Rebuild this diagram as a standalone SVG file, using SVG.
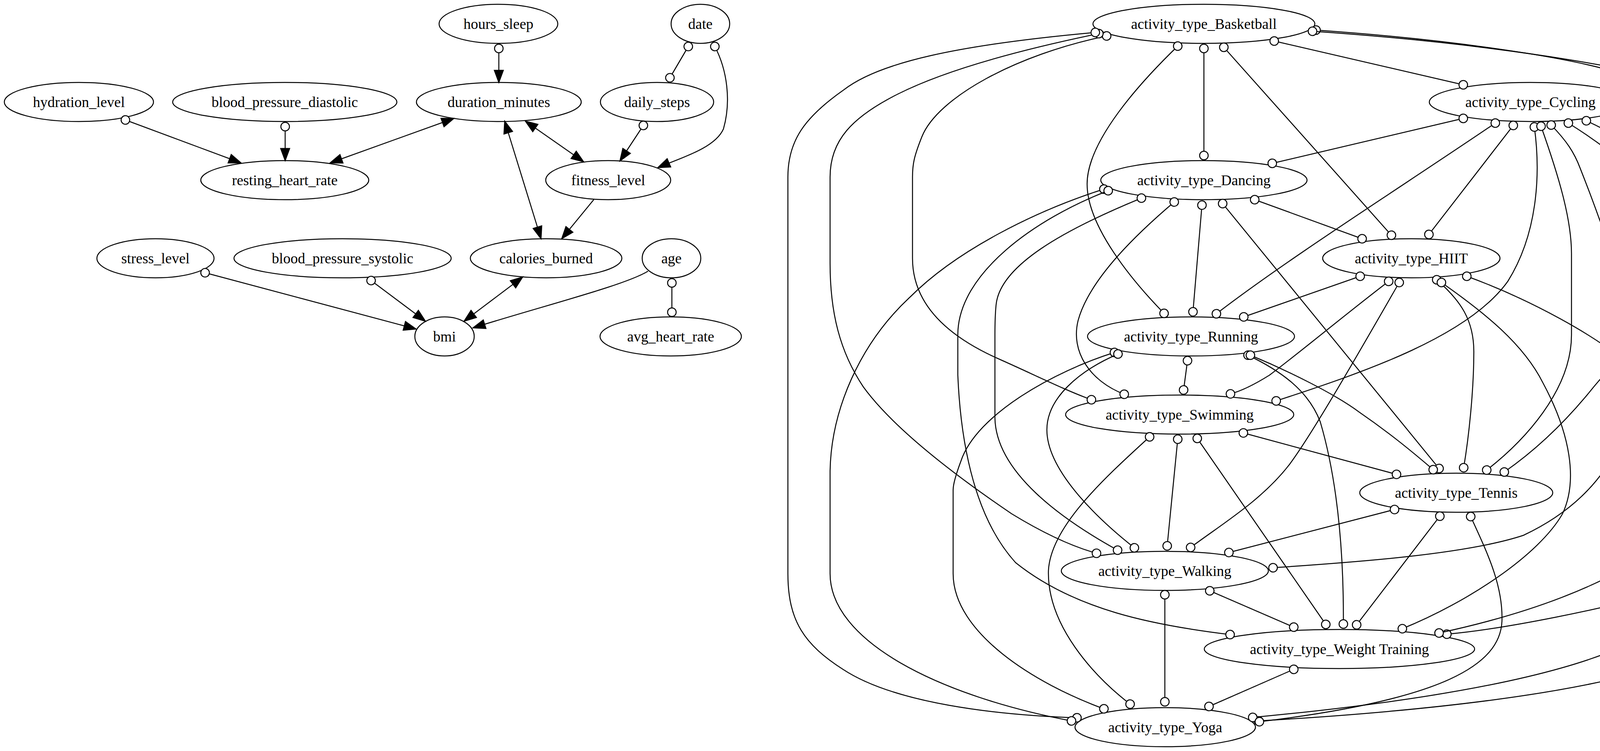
<svg xmlns="http://www.w3.org/2000/svg" width="7045" height="1922" viewBox="0 0 7045 1922">
<defs>
<style>
.n ellipse{fill:none;stroke:#000;stroke-width:2.5}
.n text{font-family:"Liberation Serif","Times New Roman",serif;font-size:37.5px;text-anchor:middle;fill:#000}
#edges path{fill:none;stroke:#000;stroke-width:2.5}
.oo{marker-start:url(#od);marker-end:url(#od)}
.oa{marker-start:url(#od);marker-end:url(#ar)}
.aa{marker-start:url(#ar);marker-end:url(#ar)}
.na{marker-end:url(#ar)}
</style>
<marker id="od" markerUnits="userSpaceOnUse" viewBox="-16 -16 32 32" markerWidth="32" markerHeight="32" refX="0" refY="0" orient="auto" overflow="visible"><circle r="11" fill="#fff" stroke="#000" stroke-width="2.5"/></marker>
<marker id="ar" markerUnits="userSpaceOnUse" viewBox="-36 -16 40 32" markerWidth="40" markerHeight="32" refX="0" refY="0" orient="auto-start-reverse" overflow="visible"><path d="M0,0 L-31,-11.5 L-31,11.5 Z" fill="#000" stroke="#000" stroke-width="2.5"/></marker>
</defs>
<rect width="7045" height="1922" fill="#fff"/>
<g id="nodes">
<g id="n_hydration_level" class="n"><ellipse cx="202" cy="261" rx="191" ry="50"/><text x="202" y="274">hydration_level</text></g>
<g id="n_blood_pressure_diastolic" class="n"><ellipse cx="729" cy="261" rx="287" ry="50"/><text x="729" y="274">blood_pressure_diastolic</text></g>
<g id="n_resting_heart_rate" class="n"><ellipse cx="729" cy="461" rx="215" ry="50"/><text x="729" y="474">resting_heart_rate</text></g>
<g id="n_stress_level" class="n"><ellipse cx="398" cy="661" rx="150" ry="50"/><text x="398" y="674">stress_level</text></g>
<g id="n_blood_pressure_systolic" class="n"><ellipse cx="877" cy="661" rx="278" ry="50"/><text x="877" y="674">blood_pressure_systolic</text></g>
<g id="n_hours_sleep" class="n"><ellipse cx="1276" cy="61" rx="152" ry="50"/><text x="1276" y="74">hours_sleep</text></g>
<g id="n_date" class="n"><ellipse cx="1793" cy="61" rx="75" ry="50"/><text x="1793" y="74">date</text></g>
<g id="n_duration_minutes" class="n"><ellipse cx="1277" cy="261" rx="211" ry="50"/><text x="1277" y="274">duration_minutes</text></g>
<g id="n_daily_steps" class="n"><ellipse cx="1682" cy="261" rx="145" ry="50"/><text x="1682" y="274">daily_steps</text></g>
<g id="n_fitness_level" class="n"><ellipse cx="1557" cy="461" rx="160" ry="50"/><text x="1557" y="474">fitness_level</text></g>
<g id="n_calories_burned" class="n"><ellipse cx="1398" cy="661" rx="194" ry="50"/><text x="1398" y="674">calories_burned</text></g>
<g id="n_age" class="n"><ellipse cx="1719" cy="661" rx="75" ry="50"/><text x="1719" y="674">age</text></g>
<g id="n_bmi" class="n"><ellipse cx="1138" cy="861" rx="76" ry="50"/><text x="1138" y="874">bmi</text></g>
<g id="n_avg_heart_rate" class="n"><ellipse cx="1717" cy="861" rx="181" ry="50"/><text x="1717" y="874">avg_heart_rate</text></g>
<g id="n_activity_type_Basketball" class="n"><ellipse cx="3082" cy="61" rx="284" ry="50"/><text x="3082" y="74">activity_type_Basketball</text></g>
<g id="n_activity_type_Cycling" class="n"><ellipse cx="3918" cy="261" rx="259" ry="50"/><text x="3918" y="274">activity_type_Cycling</text></g>
<g id="n_activity_type_Dancing" class="n"><ellipse cx="3082" cy="461" rx="264" ry="50"/><text x="3082" y="474">activity_type_Dancing</text></g>
<g id="n_activity_type_HIIT" class="n"><ellipse cx="3613" cy="661" rx="227" ry="50"/><text x="3613" y="674">activity_type_HIIT</text></g>
<g id="n_activity_type_Running" class="n"><ellipse cx="3049" cy="861" rx="265" ry="50"/><text x="3049" y="874">activity_type_Running</text></g>
<g id="n_activity_type_Swimming" class="n"><ellipse cx="3020" cy="1061" rx="292" ry="50"/><text x="3020" y="1074">activity_type_Swimming</text></g>
<g id="n_activity_type_Tennis" class="n"><ellipse cx="3728" cy="1261" rx="247" ry="50"/><text x="3728" y="1274">activity_type_Tennis</text></g>
<g id="n_activity_type_Walking" class="n"><ellipse cx="2982" cy="1461" rx="265" ry="50"/><text x="2982" y="1474">activity_type_Walking</text></g>
<g id="n_activity_type_Weight_Training" class="n"><ellipse cx="3429" cy="1661" rx="346" ry="50"/><text x="3429" y="1674">activity_type_Weight Training</text></g>
<g id="n_activity_type_Yoga" class="n"><ellipse cx="2983" cy="1861" rx="231" ry="50"/><text x="2983" y="1874">activity_type_Yoga</text></g>
<g id="n_intensity_High" class="n"><ellipse cx="5179" cy="61" rx="182" ry="50"/><text x="5179" y="74">intensity_High</text></g>
<g id="n_intensity_Low" class="n"><ellipse cx="4941" cy="261" rx="178" ry="50"/><text x="4941" y="274">intensity_Low</text></g>
<g id="n_intensity_Medium" class="n"><ellipse cx="4957" cy="461" rx="221" ry="50"/><text x="4957" y="474">intensity_Medium</text></g>
<g id="n_health_condition_Asthma" class="n"><ellipse cx="5832" cy="61" rx="297" ry="50"/><text x="5832" y="74">health_condition_Asthma</text></g>
<g id="n_health_condition_Diabetes" class="n"><ellipse cx="5831" cy="261" rx="305" ry="50"/><text x="5831" y="274">health_condition_Diabetes</text></g>
<g id="n_health_condition_Hypertension" class="n"><ellipse cx="5646" cy="461" rx="355" ry="50"/><text x="5646" y="474">health_condition_Hypertension</text></g>
<g id="n_health_condition_None" class="n"><ellipse cx="6077" cy="661" rx="270" ry="50"/><text x="6077" y="674">health_condition_None</text></g>
<g id="n_smoking_status_Current" class="n"><ellipse cx="6751" cy="61" rx="283" ry="50"/><text x="6751" y="74">smoking_status_Current</text></g>
<g id="n_smoking_status_Former" class="n"><ellipse cx="6574" cy="261" rx="281" ry="50"/><text x="6574" y="274">smoking_status_Former</text></g>
<g id="n_smoking_status_Never" class="n"><ellipse cx="6751" cy="461" rx="266" ry="50"/><text x="6751" y="474">smoking_status_Never</text></g>
</g>
<g id="edges">
<path class="oa" d="M1277,124 L1277,211"/>
<path class="oo" d="M1762,119 L1715,199"/>
<path class="oa" d="M1830,119 C1862,180 1872,260 1852,330 C1830,380 1740,405 1684,429"/>
<path class="oa" d="M1647,321 L1587,412"/>
<path class="aa" d="M1345,310 L1494,414"/>
<path class="aa" d="M1292,310 L1385,611"/>
<path class="na" d="M1520,511 L1438,611"/>
<path class="aa" d="M845,417 L1162,303"/>
<path class="oa" d="M321,307 L617,417"/>
<path class="oa" d="M730,324 L730,411"/>
<path class="oa" d="M525,698 L1065,842"/>
<path class="oa" d="M950,718 L1089,822"/>
<path class="aa" d="M1338,709 L1188,822"/>
<path class="na" d="M1659,694 C1600,730 1400,780 1211,839"/>
<path class="oo" d="M1720,724 L1720,799"/>

<path class="oo" d="M3262,105 L3746,217"/>
<path class="oo" d="M3082,124 L3082,398"/>
<path class="oo" d="M3133,121 L3562,602"/>
<path class="oo" d="M3015,118 C2920,210 2783,360 2783,471 C2783,580 2900,720 2980,802"/>
<path class="oo" d="M2833,92 C2600,140 2400,250 2360,350 C2340,400 2336,420 2336,453 L2336,661 C2336,760 2400,850 2560,920 C2650,960 2730,1000 2794,1023"/>
<path class="oo" d="M2813,86 C2600,130 2420,180 2300,240 C2180,300 2125,360 2125,453 L2125,674 C2125,800 2150,900 2210,990 C2290,1100 2450,1220 2590,1315 C2680,1370 2750,1400 2807,1416"/>
<path class="oo" d="M2804,83 C2450,115 2250,160 2160,230 C2060,300 2017,360 2017,453 L2017,1468 C2017,1590 2060,1650 2158,1713 C2290,1800 2550,1830 2757,1837"/>
<path class="oo" d="M3369,77 C3700,100 4080,150 4200,208 C4260,260 4326,380 4326,502 C4326,700 4200,850 4080,990 C4000,1090 3920,1160 3851,1208"/>
<path class="oo" d="M3360,80 C3800,110 4300,180 4520,280 C4610,330 4656,390 4656,453 L4656,1266 C4656,1380 4520,1450 4300,1505 C4100,1560 3850,1610 3704,1623"/>
<path class="oo" d="M3746,303 L3257,418"/>
<path class="oo" d="M3828,315 C3600,470 3300,660 3114,803"/>
<path class="oo" d="M3874,321 L3658,600"/>
<path class="oo" d="M3928,325 C3945,450 3935,600 3860,720 C3760,860 3500,950 3267,1026"/>
<path class="oo" d="M3945,323 C3990,450 4023,560 4023,649 L4023,857 C4023,1000 3900,1130 3806,1203"/>
<path class="oo" d="M3971,320 C4010,360 4030,390 4045,430 C4120,620 4182,800 4182,960 C4182,1150 4070,1290 3900,1370 C3750,1420 3450,1440 3259,1453"/>
<path class="oo" d="M4015,315 C4200,430 4446,650 4446,857 L4446,1064 C4446,1330 4150,1520 3684,1620"/>
<path class="oo" d="M4061,309 C4300,420 4552,650 4552,833 L4552,1462 C4552,1700 4000,1800 3222,1845"/>
<path class="oo" d="M3212,511 L3487,611"/>
<path class="oo" d="M3130,521 L3684,1199"/>
<path class="oo" d="M3077,525 L3054,798"/>
<path class="oo" d="M2922,507 C2720,590 2560,680 2550,780 C2547,810 2547,830 2547,857 L2547,1070 C2550,1210 2720,1330 2861,1408"/>
<path class="oo" d="M3006,517 C2920,590 2790,710 2760,820 C2740,900 2790,975 2878,1009"/>
<path class="oo" d="M2826,484 C2650,540 2450,640 2330,760 C2200,880 2128,1050 2125,1205 L2125,1468 C2125,1640 2400,1780 2743,1845"/>
<path class="oo" d="M2837,488 C2650,560 2452,700 2452,857 L2452,960 C2460,1150 2500,1330 2600,1440 C2750,1560 2950,1600 3149,1624"/>
<path class="oo" d="M3482,707 L3184,811"/>
<path class="oo" d="M3555,720 C3450,800 3330,900 3250,960 C3210,985 3180,1000 3150,1008"/>
<path class="oo" d="M3582,723 C3480,900 3360,1110 3300,1190 C3230,1280 3130,1340 3048,1401"/>
<path class="oo" d="M3678,716 C3740,770 3773,820 3773,900 C3773,1000 3760,1120 3747,1197"/>
<path class="oo" d="M3690,723 C3800,800 3900,880 3950,980 C4020,1110 4040,1230 4000,1315 C3940,1420 3760,1540 3590,1609"/>
<path class="oo" d="M3755,707 C3900,760 4100,860 4200,960 C4300,1070 4341,1150 4341,1254 L4341,1462 C4341,1680 3800,1780 3207,1836"/>
<path class="oo" d="M3040,923 L3030,998"/>
<path class="oo" d="M3195,909 C3280,950 3350,1000 3380,1080 C3430,1250 3440,1450 3439,1597"/>
<path class="oo" d="M3201,909 C3300,950 3420,1010 3480,1055 C3560,1110 3620,1160 3669,1202"/>
<path class="oo" d="M2853,902 C2700,950 2500,1060 2460,1180 C2445,1220 2440,1240 2440,1254 L2440,1468 C2440,1620 2650,1750 2826,1814"/>
<path class="oo" d="M2862,906 C2760,950 2680,1020 2680,1100 C2680,1200 2800,1320 2904,1402"/>
<path class="oo" d="M3183,1108 L3575,1214"/>
<path class="oo" d="M3015,1124 L2988,1397"/>
<path class="oo" d="M3065,1122 L3394,1598"/>
<path class="oo" d="M2943,1118 C2820,1230 2690,1350 2684,1460 C2680,1600 2800,1730 2893,1802"/>
<path class="oo" d="M3570,1304 L3146,1414"/>
<path class="oo" d="M3686,1321 L3473,1599"/>
<path class="oo" d="M3765,1322 C3810,1420 3848,1500 3845,1590 C3840,1700 3700,1790 3224,1847"/>
<path class="oo" d="M3097,1512 L3312,1605"/>
<path class="oo" d="M2982,1522 L2982,1796"/>
<path class="oo" d="M3312,1713 L3095,1808"/>

<path class="oo" d="M5113,117 L5007,204"/>
<path class="oo" d="M5183,124 C5183,220 5178,280 5150,320 C5120,360 5090,378 5050,405"/>
<path class="oo" d="M4946,325 L4952,398"/>
<path class="oo" d="M5831,125 L5831,196"/>
<path class="oo" d="M5640,107 C5540,180 5480,240 5485,300 C5490,350 5540,385 5570,400"/>
<path class="oo" d="M6021,107 C6110,160 6190,260 6194,360 C6198,460 6130,540 6112,599"/>
<path class="oo" d="M5778,319 L5699,400"/>
<path class="oo" d="M5927,317 C5980,380 6060,480 6074,595"/>
<path class="oo" d="M5759,513 L5967,607"/>
<path class="oo" d="M6700,120 L6623,201"/>
<path class="oo" d="M6816,120 C6860,200 6892,250 6890,300 C6888,350 6840,385 6816,400"/>
<path class="oo" d="M6623,319 L6700,400"/>
</g>
</svg>
